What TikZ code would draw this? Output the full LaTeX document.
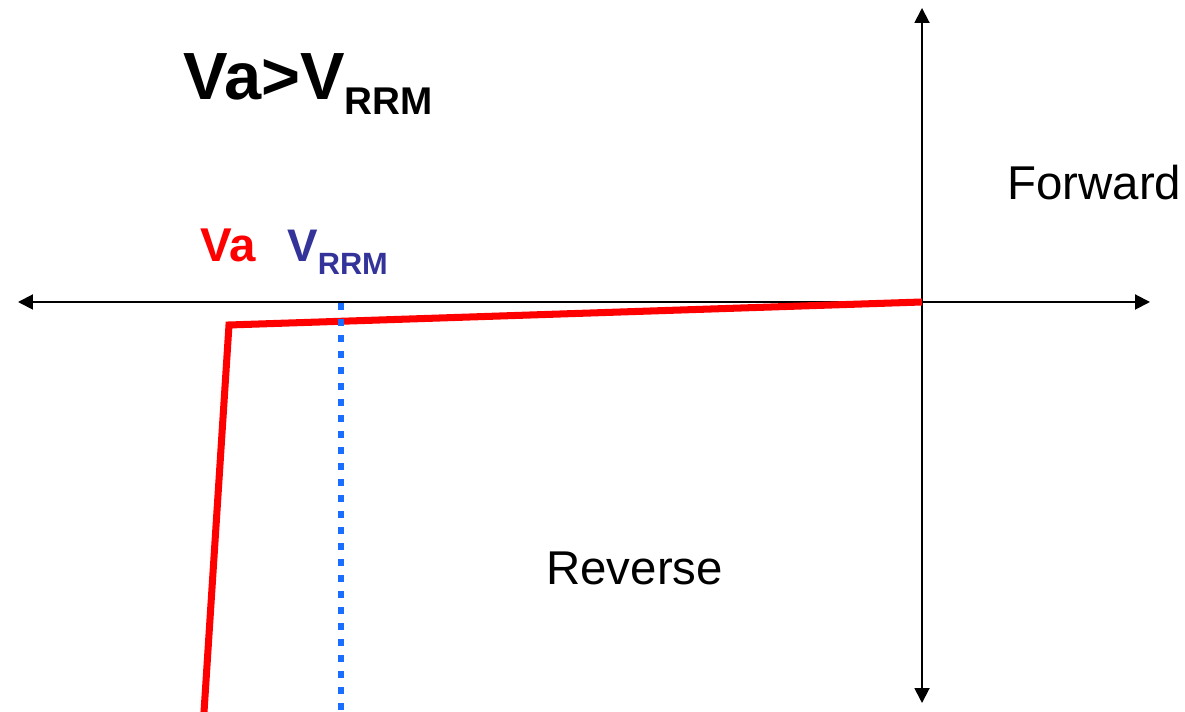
\documentclass[tikz,border=0pt]{standalone}
\usepackage{fontspec}
\setmainfont{Liberation Sans}
\usetikzlibrary{arrows.meta}
\definecolor{vared}{RGB}{255,0,0}
\definecolor{rrmblue}{RGB}{51,51,153}
\definecolor{dotblue}{RGB}{25,110,255}
\newcommand{\lowsub}[3]{\raisebox{#1}{\fontsize{#2}{#2}\selectfont #3}}
\begin{document}
\begin{tikzpicture}[x=0.02cm,y=0.02cm]
\useasboundingbox (0,0) rectangle (1185,712);
\tikzset{axis/.style={line width=1.1pt,-{Triangle[length=0.3cm,width=0.3cm]}}}
\coordinate (o) at (922,410);
\coordinate (xl) at (18,410);
\coordinate (xr) at (1150,410);
\coordinate (yt) at (922,704);
\coordinate (yb) at (922,9);
\draw[axis] (o) -- (xl);
\draw[axis] (o) -- (xr);
\draw[axis] (o) -- (yt);
\draw[axis] (o) -- (yb);
% breakdown curve
\coordinate (knee) at (229,387);
\coordinate (low) at (204,0);
\draw[vared,line width=4pt,line join=miter] (o) -- (knee) -- (low);
% V_RRM marker
\coordinate (rrmtop) at (341,409);
\coordinate (rrmbot) at (341,0);
\draw[dotblue,line width=3.8pt,dash pattern=on 0.14cm off 0.18cm] (rrmtop) -- (rrmbot);
\node[anchor=base west,inner sep=0pt,font=\fontsize{38}{40}\selectfont\bfseries] (title) at (183,612) {Va>V\lowsub{-8.5pt}{22}{RRM}};
\node[anchor=base west,inner sep=0pt,font=\fontsize{27}{30}\selectfont] (fwd) at (1007,512) {Forward};
\node[anchor=base west,inner sep=0pt,font=\fontsize{27}{30}\selectfont] (rev) at (546,127) {Reverse};
\node[anchor=base west,inner sep=0pt,text=vared,font=\fontsize{27}{30}\selectfont\bfseries] (va) at (200,450) {Va};
\node[anchor=base west,inner sep=0pt,text=rrmblue,font=\fontsize{26}{30}\selectfont\bfseries] (vrrm) at (287,450) {V\lowsub{-7pt}{17.5}{RRM}};
\end{tikzpicture}
\end{document}
